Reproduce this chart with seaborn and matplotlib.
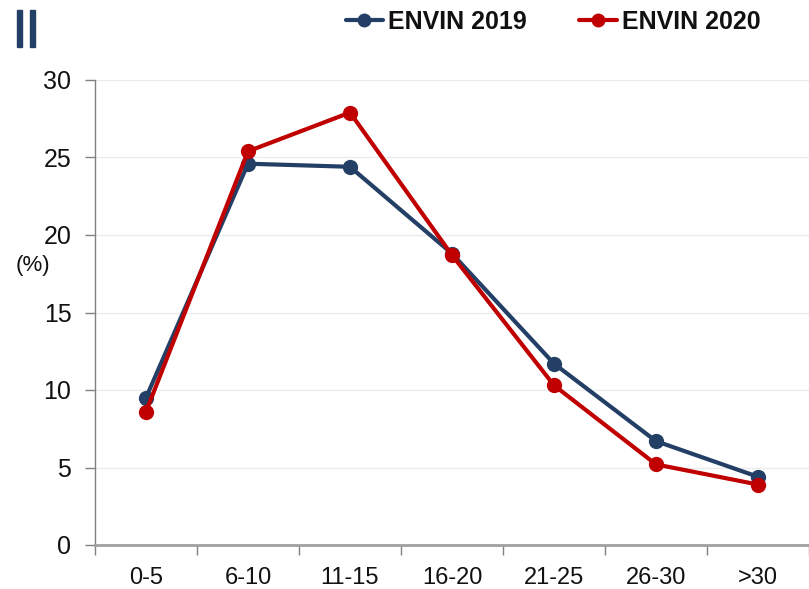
import matplotlib
matplotlib.use("Agg")
import matplotlib.pyplot as plt
from matplotlib.lines import Line2D
from matplotlib.patches import Rectangle
import pandas as pd
import seaborn as sns

# -----------------------------------------------------
# datos
# -----------------------------------------------------
categorias = ['0-5', '6-10', '11-15', '16-20', '21-25', '26-30', '>30']
envin_2019 = [9.5, 24.6, 24.4, 18.8, 11.7, 6.7, 4.4]
envin_2020 = [8.6, 25.4, 27.9, 18.7, 10.3, 5.2, 3.9]
series = ['ENVIN 2019', 'ENVIN 2020']
y_ticks = [0, 5, 10, 15, 20, 25, 30]

colores = {'ENVIN 2019': '#243F66', 'ENVIN 2020': '#C00000'}

df = pd.DataFrame({
    'grupo': categorias * 2,
    'valor': envin_2019 + envin_2020,
    'serie': [series[0]] * len(categorias) + [series[1]] * len(categorias),
})

sns.set_style('white')
plt.rcParams['font.family'] = ['Liberation Sans', 'DejaVu Sans']
plt.rcParams['text.color'] = '#111111'
plt.rcParams['xtick.labelcolor'] = '#111111'
plt.rcParams['ytick.labelcolor'] = '#111111'

fig = plt.figure(figsize=(8.09, 5.89), dpi=100)
ax = fig.add_axes([95 / 809, 1 - 545 / 589, 1 - 95 / 809, (545 - 80) / 589])

sns.lineplot(data=df, x='grupo', y='valor', hue='serie', palette=colores,
             marker='o', markersize=11, markeredgewidth=0, linewidth=3,
             sort=False, legend=False, ax=ax)

# ejes
ax.set_ylim(0, 30)
ax.set_yticks(y_ticks)
ax.set_xlim(-0.5, 6.42)
ax.set_xlabel('')
ax.set_ylabel('')
ax.yaxis.grid(True, color='#EBEBEB', linewidth=1)
ax.set_axisbelow(True)

# ticks del eje x en los limites de categoria, etiquetas centradas
ax.set_xticks([i - 0.5 for i in range(len(categorias) + 1)])
ax.set_xticklabels([])
ax.set_xticks(range(len(categorias)), minor=True)
ax.set_xticklabels(categorias, minor=True)
ax.tick_params(axis='x', which='major', bottom=True, direction='out', length=7,
               width=1, color='#808080')
ax.tick_params(axis='x', which='minor', bottom=True, length=0, pad=16, labelsize=17)
ax.tick_params(axis='y', left=True, direction='out', length=7, width=1, color='#808080',
               labelsize=18, pad=10)

for s in ['top', 'right']:
    ax.spines[s].set_visible(False)
ax.spines['left'].set_color('#808080')
ax.spines['left'].set_linewidth(1)
ax.spines['bottom'].set_color('#A0A0A0')
ax.spines['bottom'].set_linewidth(2)

fig.text(33 / 809, 1 - 265 / 589, '(%)', fontsize=16, ha='center', va='center')

# leyenda
handles = [Line2D([0], [0], color=colores[s], lw=3, marker='o', markersize=10,
                  markeredgewidth=0) for s in series]
fig.legend(handles, series, loc='center', bbox_to_anchor=(553 / 809, 1 - 22 / 589),
           ncol=2, frameon=False, handlelength=1.5, handletextpad=0.2,
           columnspacing=2.1, prop={'size': 18, 'weight': 'bold'})

# barras decorativas
for x0 in [17, 30]:
    fig.patches.append(Rectangle((x0 / 809, 1 - 47 / 589), 5 / 809, 37 / 589,
                                 transform=fig.transFigure, color='#243F66'))

fig.savefig('out.png', dpi=100)
